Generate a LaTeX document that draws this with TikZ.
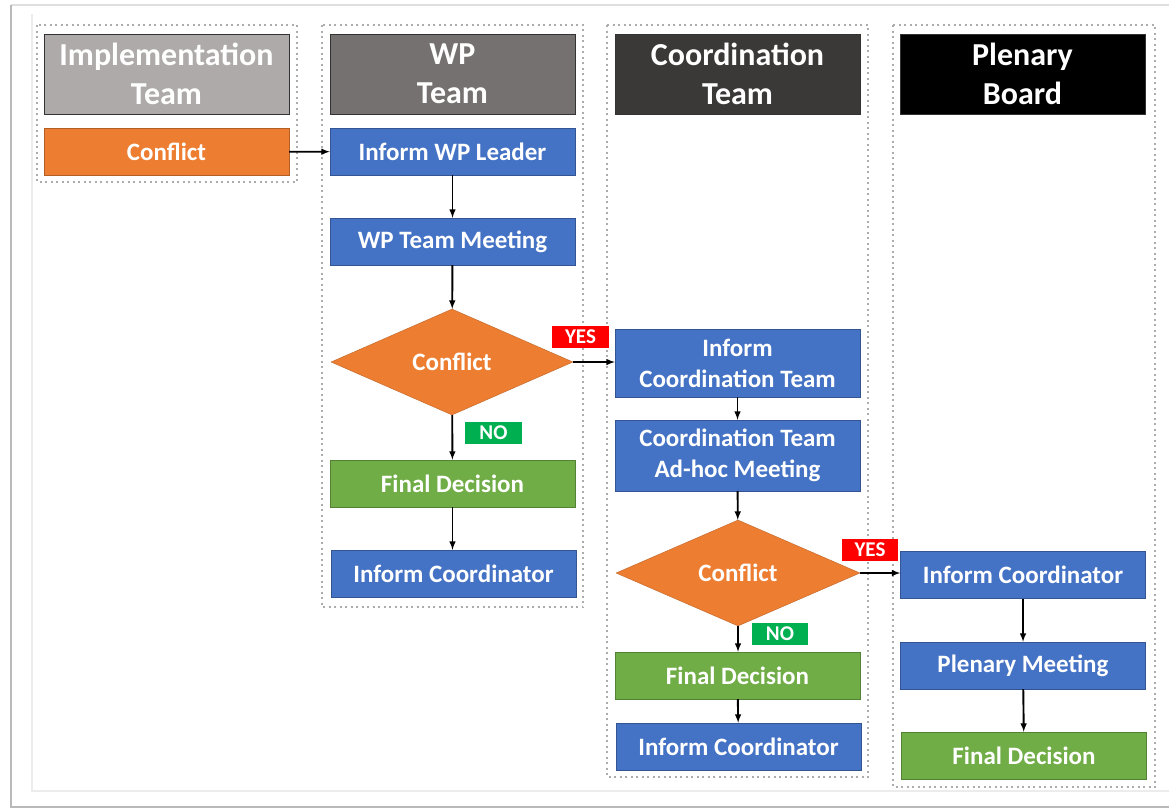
\documentclass[tikz,border=0pt]{standalone}
\usepackage{fontspec}
\setmainfont{Carlito}
\usetikzlibrary{positioning}
\usetikzlibrary{shapes.geometric}
\definecolor{orng}{HTML}{ED7D31}
\definecolor{blu}{HTML}{4472C4}
\definecolor{grn}{HTML}{70AD47}
\definecolor{lgry}{HTML}{AEAAAA}
\definecolor{mgry}{HTML}{767171}
\definecolor{dgry}{HTML}{3B3838}
\definecolor{yesred}{HTML}{FF0000}
\definecolor{nogrn}{HTML}{00B050}

\begin{document}
\begin{tikzpicture}[x=1pt,y=-1pt,>=latex,
	box/.style={draw=#1!75!black,fill=#1,text=white,minimum width=245pt,minimum height=47pt,inner sep=0pt,align=center,font=\bfseries\fontsize{25}{31}\selectfont},
	hdr/.style={draw=black!80,fill=#1,text=white,minimum width=245pt,minimum height=80pt,inner sep=0pt,align=center,font=\bfseries\fontsize{32}{39}\selectfont},
	dia/.style={diamond,draw=orng!80!black,fill=orng,text=white,minimum width=242pt,minimum height=106pt,inner sep=0pt,font=\bfseries\fontsize{25}{30}\selectfont},
	lbl/.style={fill=#1,text=white,minimum width=57pt,minimum height=22pt,inner sep=0pt,font=\bfseries\fontsize{21}{21}\selectfont},
	lane/.style={draw=gray!65,line width=2pt,dash pattern=on 2pt off 3.5pt},
	flow/.style={->,line width=1.9pt}]
	\useasboundingbox (0,0) rectangle (1169,809);
	\draw[gray!25,line width=1.5pt] (11,5) -- (1169,5);
	\draw[gray!55,line width=2pt] (11,5) -- (11,807) -- (1169,807);
	\draw[gray!15,line width=1.5pt] (32,14) -- (32,791) -- (1169,791);
	\draw[lane] (37,25) rectangle (297,182);
	\draw[lane] (322,25) rectangle (583,607);
	\draw[lane] (607,25) rectangle (868,777);
	\draw[lane] (893,25) rectangle (1155,787);
	\node[hdr=lgry] (hImpl) at (166.5,74) {Implementation\\Team};
	\node[hdr=mgry] (hWP) at (452.5,74) {WP\\Team};
	\node[hdr=dgry] (hCoord) at (737.5,74) {Coordination\\Team};
	\node[hdr=black] (hPlen) at (1022.5,74) {Plenary\\Board};
	\node[box=orng] (implConflict) at (166.5,152) {Conflict};
	\node[box=blu] (wpInform) at (452.5,151.5) {Inform WP Leader};
	\node[box=blu] (wpMeeting) at (452.5,241.5) {WP Team Meeting};
	\node[dia] (wpConflict) at (452,362) {Conflict};
	\node[box=grn] (wpDecision) at (452.5,483.5) {Final Decision};
	\node[box=blu] (wpCoordinator) at (453.5,573.5) {Inform Coordinator};
	\node[box=blu,minimum height=68pt] (ctInform) at (737.5,363) {Inform\\Coordination Team};
	\node[box=blu,minimum height=71pt] (ctMeeting) at (737.5,455.5) {Coordination Team\\Ad-hoc Meeting};
	\node[dia,minimum width=244pt] (ctConflict) at (738,573) {Conflict};
	\node[box=grn] (ctDecision) at (737.5,675.5) {Final Decision};
	\node[box=blu] (ctCoordinator) at (738.5,746.5) {Inform Coordinator};
	\node[box=blu] (pbCoordinator) at (1023,575) {Inform Coordinator};
	\node[box=blu] (pbMeeting) at (1023,665.5) {Plenary Meeting};
	\node[box=grn] (pbDecision) at (1024,755.5) {Final Decision};
	\node[lbl=yesred] (yesWP) at (580.5,337) {YES};
	\node[lbl=nogrn] (noWP) at (493.5,433) {NO};
	\node[lbl=yesred,minimum width=56pt] (yesCT) at (870,550) {YES};
	\node[lbl=nogrn,minimum width=56pt] (noCT) at (780,633.5) {NO};
	\draw[flow] (implConflict) -- (wpInform);
	\draw[flow] (wpInform) -- (wpMeeting);
	\draw[flow] (wpMeeting) -- (wpConflict);
	\draw[flow] (wpConflict.east) -- (wpConflict.east -| ctInform.west);
	\draw[flow] (wpConflict) -- (wpDecision);
	\draw[flow] (wpDecision) -- (wpDecision |- wpCoordinator.north);
	\draw[flow] (ctInform) -- (ctMeeting);
	\draw[flow] (ctMeeting) -- (ctConflict);
	\draw[flow] (ctConflict.east) -- (ctConflict.east -| pbCoordinator.west);
	\draw[flow] (ctConflict) -- (ctConflict |- ctDecision.north);
	\draw[flow] (ctDecision) -- (ctCoordinator);
	\draw[flow] (pbCoordinator) -- (pbMeeting);
	\draw[flow] (pbMeeting) -- (pbDecision);
\end{tikzpicture}
\end{document}
